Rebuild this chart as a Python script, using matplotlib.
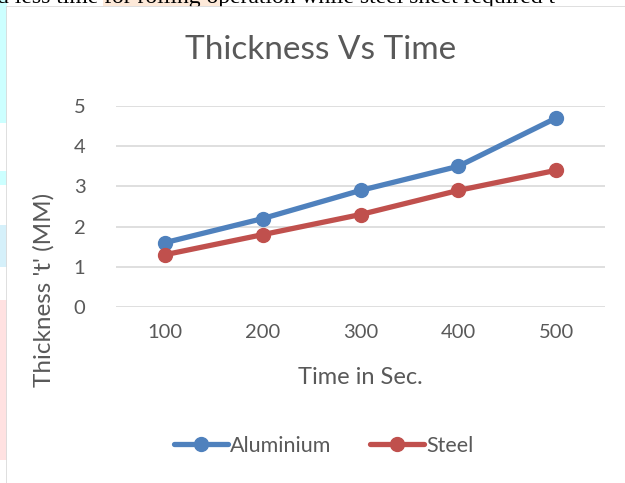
import matplotlib.pyplot as plt
from matplotlib.patches import Rectangle
from matplotlib.lines import Line2D

times = ["100", "200", "300", "400", "500"]
aluminium = [1.6, 2.2, 2.9, 3.5, 4.7]
steel = [1.3, 1.8, 2.3, 2.9, 3.4]

W, H = 625, 483
fig = plt.figure(figsize=(6.25, 4.83), dpi=100)
plt.rcParams['font.family'] = ['Lato', 'DejaVu Sans']

# bits of the page behind the chart (screenshot edges)
def px_rect(x0, y0, x1, y1, color):
    fig.patches.append(Rectangle((x0 / W, 1 - y1 / H), (x1 - x0) / W, (y1 - y0) / H,
                                 transform=fig.transFigure, color=color, lw=0, zorder=-3))

px_rect(0, 0, 7, 123, '#CCFFFF')
px_rect(0, 171, 7, 185, '#CCFFFF')
px_rect(0, 225, 7, 267, '#D5F0FA')
px_rect(0, 300, 7, 460, '#FFE1E1')
px_rect(103, 0, 220, 6, '#FDE9D9')
fig.text(-0.005, 1 - 3 / H, "d less time for rolling operation while steel sheet required t",
         family='Liberation Serif', fontsize=17, color='black', va='baseline', ha='left',
         zorder=-2)
bg = Rectangle((7 / W, 0), 1 - 7 / W, 1 - 7 / H, transform=fig.transFigure,
               color='white', lw=0, zorder=-1)
fig.patches.append(bg)
fig.lines.append(Line2D([7 / W, 7 / W], [0, 1 - 7 / H], transform=fig.transFigure,
                        color='#D9D9D9', lw=1.2, zorder=-1))
fig.lines.append(Line2D([7 / W, 1], [1 - 7 / H, 1 - 7 / H], transform=fig.transFigure,
                        color='#D9D9D9', lw=1.2, zorder=-1))

ax = fig.add_axes([116 / W, 1 - 307 / H, (605 - 116) / W, (307 - 106) / H])
ax.set_zorder(1)
ax.set_facecolor('none')
x = range(len(times))
ax.plot(x, aluminium, color='#4F81BD', lw=3.8, marker='o', ms=10, label='Aluminium',
        solid_capstyle='round')
ax.plot(x, steel, color='#C0504D', lw=3.8, marker='o', ms=10, label='Steel',
        solid_capstyle='round')

ax.set_xlim(-0.5, len(times) - 0.5)
ax.set_ylim(0, 5)
ax.set_xticks(list(x))
ax.set_xticklabels(times)
ax.set_yticks(range(6))
ax.grid(axis='y', color='#D9D9D9', lw=1.2)
ax.set_axisbelow(True)
for s in ax.spines.values():
    s.set_visible(False)
ax.tick_params(length=0, labelsize=14.5, colors='#595959', pad=12)
ax.tick_params(axis='y', pad=22)

fig.text(321 / W, 1 - 50 / H, "Thickness Vs Time", fontsize=24, color='#595959',
         ha='center', va='center')
fig.text(360 / W, 1 - 377 / H, "Time in Sec.", fontsize=17, color='#595959',
         ha='center', va='center')
fig.text(44 / W, 1 - 290 / H, "Thickness 't' (MM)", fontsize=17.5, color='#595959',
         ha='center', va='center', rotation=90)

fig.legend(loc='center', bbox_to_anchor=(324 / W, 1 - 446 / H), ncol=2, frameon=False,
           fontsize=15.5, labelcolor='#595959', handlelength=2.5, handletextpad=0.1,
           columnspacing=1.8)

fig.savefig('out.png', dpi=100)
